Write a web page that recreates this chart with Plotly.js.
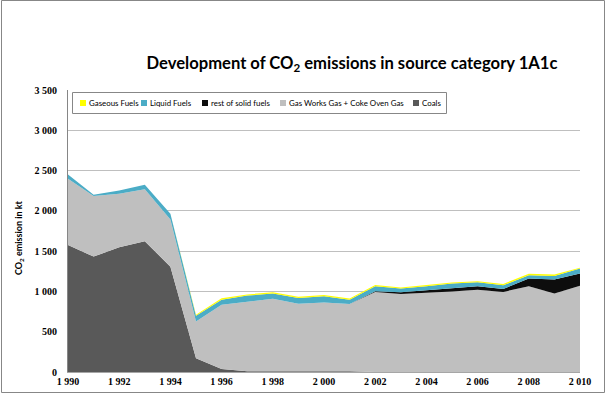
<!DOCTYPE html>
<html>
<head>
<meta charset="utf-8">
<script src="https://cdn.plot.ly/plotly-3.0.1.min.js"></script>
<style>
  html, body { margin: 0; padding: 0; background: #fff; }
  #chart { width: 607px; height: 395px; }
</style>
</head>
<body>
<div id="chart"></div>
<script>
// ---- data (kt CO2) ----
const years = [1990,1991,1992,1993,1994,1995,1996,1997,1998,1999,2000,2001,2002,2003,2004,2005,2006,2007,2008,2009,2010];
const coals = [1575,1432,1548,1623,1307,171,36,8,10,12,12,8,0,0,0,0,0,0,0,0,0];
const gasWorks = [825,752,665,644,586,456,799,869,900,836,852,836,994,969,981,998,1022,994,1064,973,1072];
const restSolid = [0,0,0,0,0,0,0,0,0,0,0,0,8,20,33,45,42,37,96,174,150];
const liquidFuels = [50,16,41,58,71,71,63,71,63,71,75,54,62,46,50,54,50,45,41,46,62];
const gaseousFuels = [0,0,0,0,0,12,16,15,16,15,17,14,16,15,16,15,12,17,17,16,9];

const seriesNames = ["Coals", "Gas Works Gas + Coke Oven Gas", "rest of solid fuels", "Liquid Fuels", "Gaseous Fuels"];
const seriesValues = [coals, gasWorks, restSolid, liquidFuels, gaseousFuels];
const seriesColors = ["#595959", "#BFBFBF", "#0D0D0D", "#4BACC6", "#FFFF00"];

// ---- geometry ----
const W = 607, H = 395;
const M = {l: 68, r: 27, t: 90, b: 23};
const PW = W - M.l - M.r, PH = H - M.t - M.b;
const px2x = p => (p - M.l) / PW;
const py2y = p => (H - M.b - p) / PH;

const traces = seriesNames.map((name, i) => ({
  type: "scatter",
  mode: "lines",
  name: name,
  x: years,
  y: seriesValues[i],
  stackgroup: "one",
  line: {width: 0, color: seriesColors[i]},
  fillcolor: seriesColors[i],
  showlegend: false,
  hoverinfo: "x+y+name"
}));

// custom legend (order: top of stack first)
const legendOrder = [4, 3, 2, 1, 0];
const legendSquareX = [80, 141, 202, 280, 413];
const legendCenterY = 103;
const shapes = [];
const annotations = [];

// outer chart border
shapes.push({type: "rect", xref: "paper", yref: "paper",
  x0: px2x(1.5), x1: px2x(604.5), y0: py2y(392.5), y1: py2y(0.5),
  line: {color: "#878787", width: 1}, fillcolor: "rgba(0,0,0,0)", layer: "below"});
// legend box
shapes.push({type: "rect", xref: "paper", yref: "paper",
  x0: px2x(72.5), x1: px2x(446.5), y0: py2y(113.5), y1: py2y(92.5),
  line: {color: "#878787", width: 1}, fillcolor: "#ffffff", layer: "above"});

legendOrder.forEach((si, k) => {
  const x0 = legendSquareX[k];
  shapes.push({type: "rect", xref: "paper", yref: "paper",
    x0: px2x(x0), x1: px2x(x0 + 6), y0: py2y(legendCenterY + 3), y1: py2y(legendCenterY - 3),
    line: {width: 0}, fillcolor: seriesColors[si], layer: "above"});
  annotations.push({xref: "paper", yref: "paper", x: px2x(x0 + 7), y: py2y(legendCenterY),
    xanchor: "left", yanchor: "middle", showarrow: false, text: seriesNames[si],
    font: {family: "Lato, 'Open Sans', sans-serif", size: 7.9, color: "#000"}});
});

// y-axis title (placed like the reference, slightly below the plot centre)
annotations.push({xref: "paper", yref: "paper", x: px2x(19), y: py2y(238),
  xanchor: "center", yanchor: "middle", showarrow: false, textangle: -90,
  text: "<b>CO<sub>2</sub> emission in kt</b>",
  font: {family: "Lato, 'Open Sans', sans-serif", size: 9, color: "#000"}});

const layout = {
  width: W, height: H,
  margin: M,
  paper_bgcolor: "#ffffff",
  plot_bgcolor: "#ffffff",
  separators: ". ",
  showlegend: false,
  title: {
    text: "<b>Development of CO<sub>2</sub> emissions in source category 1A1c</b>",
    font: {family: "Lato, 'Open Sans', sans-serif", size: 16.6, color: "#000"},
    xref: "container", yref: "container",
    x: 352 / W, xanchor: "center",
    y: 1 - 63 / H, yanchor: "middle"
  },
  xaxis: {
    range: [1990, 2010],
    tickmode: "linear", tick0: 1990, dtick: 2,
    separatethousands: true,
    showgrid: false, zeroline: false,
    showline: true, linecolor: "#A6A6A6", linewidth: 1,
    ticks: "",
    tickfont: {family: "'Liberation Serif', serif", size: 10, color: "#000", weight: "bold"},
    fixedrange: true
  },
  yaxis: {
    range: [0, 3500],
    tickmode: "linear", tick0: 0, dtick: 500,
    separatethousands: true,
    showgrid: true, gridcolor: "#BFBFBF", gridwidth: 1,
    zeroline: false,
    showline: true, linecolor: "#868686", linewidth: 1,
    ticks: "",
    ticklabelstandoff: 8,
    tickfont: {family: "'Liberation Serif', serif", size: 10, color: "#000", weight: "bold"},
    fixedrange: true
  },
  shapes: shapes,
  annotations: annotations
};

Plotly.newPlot("chart", traces, layout, {displayModeBar: false, staticPlot: true});
</script>
</body>
</html>
